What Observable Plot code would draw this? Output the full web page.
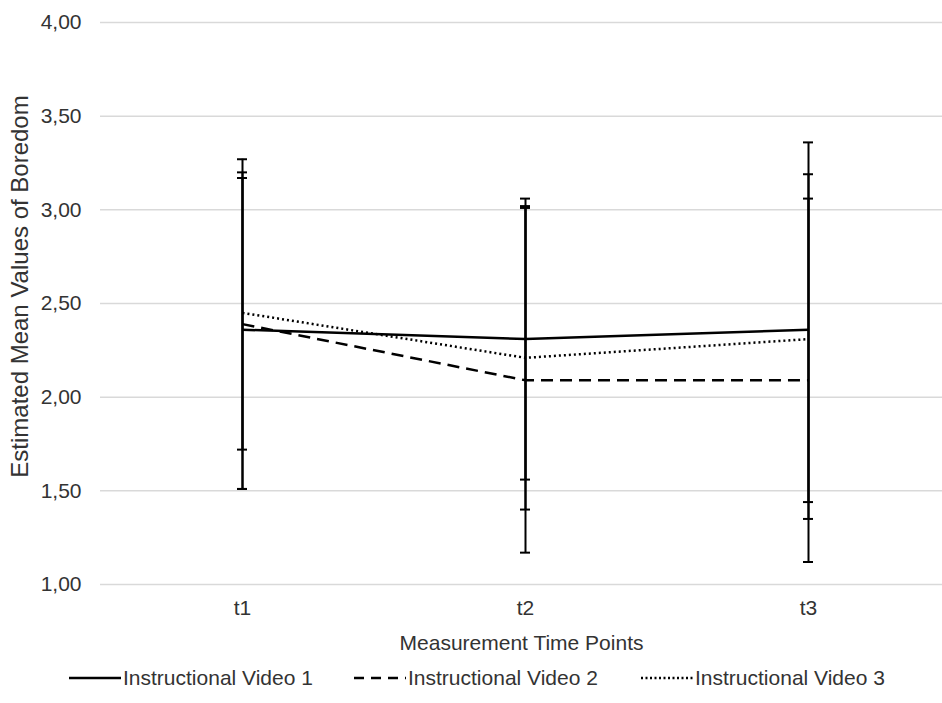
<!DOCTYPE html>
<html>
<head>
<meta charset="utf-8">
<script src="https://cdn.jsdelivr.net/npm/d3@7"></script>
<script src="https://cdn.jsdelivr.net/npm/@observablehq/plot@0.6"></script>
<style>
  body { margin: 0; background: #fff; font-family: "Liberation Sans", Arial, sans-serif; }
  #legend { position: relative; height: 30px; margin-top: 6px; font-size: 21px; color: #333; }
  .item { position: absolute; top: 0; display: flex; align-items: center; white-space: nowrap; }
  .item svg { margin-right: 2px; }
</style>
</head>
<body>
<div id="chart"></div>
<div id="legend"></div>
<script>
const times = ["t1", "t2", "t3"];
const seriesNames = ["Instructional Video 1", "Instructional Video 2", "Instructional Video 3"];
const means1 = [2.36, 2.31, 2.36];
const lower1 = [1.51, 1.56, 1.35];
const upper1 = [3.20, 3.06, 3.36];
const means2 = [2.39, 2.09, 2.09];
const lower2 = [1.51, 1.17, 1.12];
const upper2 = [3.27, 3.01, 3.06];
const means3 = [2.45, 2.21, 2.31];
const lower3 = [1.72, 1.40, 1.44];
const upper3 = [3.17, 3.02, 3.19];
const yTicks = [1, 1.5, 2, 2.5, 3, 3.5, 4];

const dashes = ["none", "12,7", "2,3"];
const allMeans = [means1, means2, means3];
const allLower = [lower1, lower2, lower3];
const allUpper = [upper1, upper2, upper3];

const data = [];
seriesNames.forEach((s, si) => {
  times.forEach((t, ti) => {
    data.push({series: s, idx: si, time: t, mean: allMeans[si][ti], lo: allLower[si][ti], hi: allUpper[si][ti]});
  });
});
const caps = data.flatMap(d => [{time: d.time, v: d.lo}, {time: d.time, v: d.hi}]);

const fmt = v => v.toFixed(2).replace(".", ",");
const FS = 21;

const chart = Plot.plot({
  width: 942,
  height: 660,
  marginLeft: 100,
  marginRight: 0,
  marginTop: 22,
  marginBottom: 76,
  style: {fontFamily: "'Liberation Sans', Arial, sans-serif", fontSize: FS + "px", color: "#333", background: "#fff"},
  x: {type: "point", domain: times, range: [100, 949], padding: 0.5},
  y: {domain: [1, 4]},
  marks: [
    Plot.gridY(yTicks, {stroke: "#d9d9d9", strokeOpacity: 1, strokeWidth: 1.5}),
    Plot.axisY(yTicks, {tickSize: 0, tickPadding: 19, tickFormat: fmt, label: null, fill: "#333", fontSize: FS}),
    Plot.axisX(times, {tickSize: 0, tickPadding: 16, label: null, fill: "#333", fontSize: FS}),
    Plot.text(["Measurement Time Points"], {frameAnchor: "bottom", lineAnchor: "middle", textAnchor: "middle", dy: 59, fill: "#333", fontSize: FS}),
    Plot.text(["Estimated Mean Values of Boredom"], {frameAnchor: "left", textAnchor: "middle", lineAnchor: "middle", rotate: -90, dx: -80, dy: -17, fill: "#333", fontSize: 24}),
    Plot.ruleX(data, {x: "time", y1: "lo", y2: "hi", stroke: "#000", strokeWidth: 2}),
    Plot.ruleY(caps, {x1: "time", x2: "time", y: "v", stroke: "#000", strokeWidth: 2, insetLeft: -5, insetRight: -5}),
    ...seriesNames.map((s, si) =>
      Plot.line(data.filter(d => d.idx === si), {x: "time", y: "mean", stroke: "#000", strokeWidth: 2.5, strokeDasharray: dashes[si], strokeLinecap: "butt"})
    )
  ]
});
document.getElementById("chart").append(chart);

const legend = document.getElementById("legend");
const lefts = [69, 354, 641];
seriesNames.forEach((s, si) => {
  const item = document.createElement("div");
  item.className = "item";
  item.style.left = lefts[si] + "px";
  const ns = "http://www.w3.org/2000/svg";
  const sv = document.createElementNS(ns, "svg");
  sv.setAttribute("width", "52");
  sv.setAttribute("height", "14");
  const ln = document.createElementNS(ns, "line");
  ln.setAttribute("x1", "0"); ln.setAttribute("x2", "52");
  ln.setAttribute("y1", "7"); ln.setAttribute("y2", "7");
  ln.setAttribute("stroke", "#000");
  ln.setAttribute("stroke-width", "2.5");
  if (si === 1) ln.setAttribute("stroke-dasharray", "10,7");
  if (si === 2) ln.setAttribute("stroke-dasharray", "2,2.5");
  sv.append(ln);
  const tx = document.createElement("span");
  tx.textContent = s;
  item.append(sv, tx);
  legend.append(item);
});
</script>
</body>
</html>
